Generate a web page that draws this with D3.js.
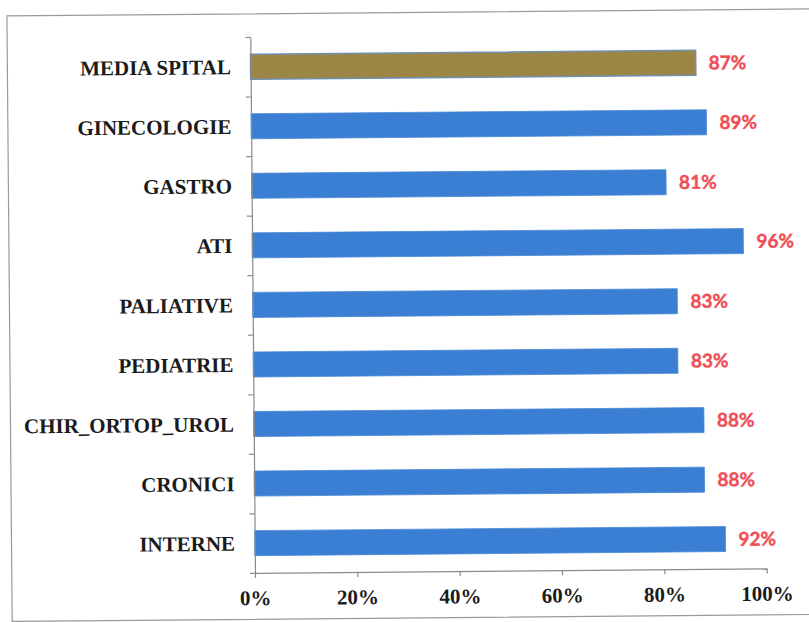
<!DOCTYPE html>
<html>
<head>
<meta charset="utf-8">
<script src="https://cdn.jsdelivr.net/npm/d3@7"></script>
<style>
  html, body { margin: 0; padding: 0; background: #fff; }
  svg { display: block; }
</style>
</head>
<body>
<svg id="chart" width="809" height="622"></svg>
<script>
// Sections, top to bottom, and their share (%)
const categories = ["MEDIA SPITAL", "GINECOLOGIE", "GASTRO", "ATI", "PALIATIVE",
                    "PEDIATRIE", "CHIR_ORTOP_UROL", "CRONICI", "INTERNE"];
const values = [87, 89, 81, 96, 83, 83, 88, 88, 92];
const highlighted = ["MEDIA SPITAL"];
const xTicks = [0, 20, 40, 60, 80, 100];

const W = 809, H = 622;
const plot = { left: 252.7, right: 764.4, top: 35.6, bottom: 571.6 };

const svg = d3.select("#chart");
// the whole sheet sits very slightly tilted
const g = svg.append("g").attr("transform", `rotate(-0.5, ${W / 2}, ${H / 2})`);

// chart frame
g.append("rect")
  .attr("x", 9.5).attr("y", 12.5)
  .attr("width", 830).attr("height", 605.5)
  .attr("fill", "#fff")
  .attr("stroke", "#9a9a9a").attr("stroke-width", 1.2);

const x = d3.scaleLinear().domain([0, 100]).range([plot.left, plot.right]);
const y = d3.scaleBand().domain(categories)
  .range([plot.top, plot.bottom])
  .paddingInner(0.58).paddingOuter(0.29);

// category boundaries for the vertical axis ticks
const idx = d3.scaleLinear().domain([0, categories.length]).range([plot.top, plot.bottom]);

const data = categories.map((c, i) => ({ cat: c, v: values[i] }));

// bars
g.append("g").selectAll("rect").data(data).join("rect")
  .attr("x", x(0))
  .attr("y", d => y(d.cat))
  .attr("width", d => x(d.v) - x(0))
  .attr("height", y.bandwidth())
  .attr("fill", d => highlighted.includes(d.cat) ? "#9b8646" : "#3a7fd4")
  .attr("stroke", d => highlighted.includes(d.cat) ? "#6f8fb3" : "#4a88d4")
  .attr("stroke-width", d => highlighted.includes(d.cat) ? 1.5 : 0.8);

// vertical axis
const yAxis = g.append("g")
  .attr("transform", `translate(${plot.left},0)`)
  .call(d3.axisLeft(idx).tickValues(d3.range(categories.length + 1))
        .tickFormat("").tickSize(5).tickSizeOuter(0));
yAxis.selectAll("path, line").attr("stroke", "#8a8a8a").attr("stroke-width", 1.2);

// horizontal axis
const xAxis = g.append("g")
  .attr("transform", `translate(0,${plot.bottom})`)
  .call(d3.axisBottom(x).tickValues(xTicks).tickFormat(d => d + "%")
        .tickSize(5).tickSizeOuter(0).tickPadding(13));
xAxis.selectAll("path, line").attr("stroke", "#8a8a8a").attr("stroke-width", 1.2);
xAxis.selectAll("text")
  .attr("font-family", "'Liberation Serif', 'Times New Roman', serif")
  .attr("font-weight", "bold")
  .attr("font-size", 21)
  .attr("fill", "#1b1b1b")
  .attr("dy", "0.68em");

// category labels
g.append("g").selectAll("text").data(data).join("text")
  .attr("x", 233)
  .attr("y", d => y(d.cat) + y.bandwidth() / 2)
  .attr("dy", "0.35em")
  .attr("text-anchor", "end")
  .attr("font-family", "'Liberation Serif', 'Times New Roman', serif")
  .attr("font-weight", "bold")
  .attr("font-size", 21)
  .attr("fill", "#1b1b1b")
  .text(d => d.cat);

// value labels
g.append("g").selectAll("text").data(data).join("text")
  .attr("x", d => x(d.v) + 13)
  .attr("y", d => y(d.cat) + y.bandwidth() / 2)
  .attr("dy", "0.36em")
  .attr("font-family", "Lato, 'Open Sans', sans-serif")
  .attr("font-weight", "bold")
  .attr("font-size", 19)
  .attr("fill", "#f04e55")
  .attr("stroke", "#f04e55").attr("stroke-width", 0.4)
  .text(d => d.v + "%");
</script>
</body>
</html>
